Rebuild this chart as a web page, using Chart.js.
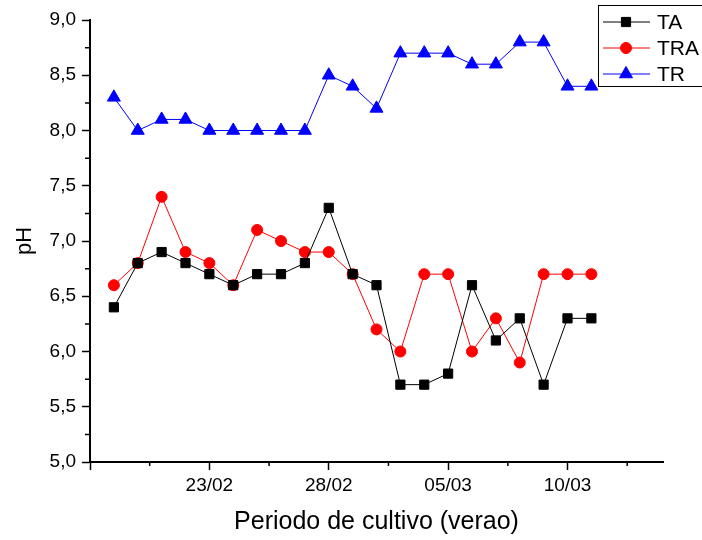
<!DOCTYPE html>
<html>
<head>
<meta charset="utf-8">
<script src="https://cdn.jsdelivr.net/npm/chart.js@4/dist/chart.umd.min.js"></script>
<style>
  body { margin: 0; background: #fff; }
  #wrap { width: 702px; height: 540px; }
</style>
</head>
<body>
<div id="wrap"><canvas id="phChart" width="702" height="540"></canvas></div>
<script>
// jours de mesure (19/02 -> 11/03)
const days = ['19/02', '20/02', '21/02', '22/02', '23/02', '24/02', '25/02', '26/02', '27/02', '28/02',
  '01/03', '02/03', '03/03', '04/03', '05/03', '06/03', '07/03', '08/03', '09/03', '10/03', '11/03'];
const xTickLabels = ['23/02', '28/02', '05/03', '10/03'];
const ta  = [6.4, 6.8, 6.9, 6.8, 6.7, 6.6, 6.7, 6.7, 6.8, 7.3, 6.7, 6.6, 5.7, 5.7, 5.8, 6.6, 6.1, 6.3, 5.7, 6.3, 6.3];
const tra = [6.6, 6.8, 7.4, 6.9, 6.8, 6.6, 7.1, 7.0, 6.9, 6.9, 6.7, 6.2, 6.0, 6.7, 6.7, 6.0, 6.3, 5.9, 6.7, 6.7, 6.7];
const tr  = [8.3, 8.0, 8.1, 8.1, 8.0, 8.0, 8.0, 8.0, 8.0, 8.5, 8.4, 8.2, 8.7, 8.7, 8.7, 8.6, 8.6, 8.8, 8.8, 8.4, 8.4];

const FONT = '"Liberation Sans", Arial, sans-serif';
Chart.defaults.font.family = FONT;
Chart.defaults.color = '#000';

const pts = arr => arr.map((v, i) => ({ x: i, y: v }));

// graduations secondaires + legende encadree
const extras = {
  id: 'extras',
  afterDraw(chart) {
    const { ctx, chartArea: a, scales: { x, y } } = chart;
    ctx.save();
    ctx.strokeStyle = '#000';
    ctx.lineWidth = 1.5;
    ctx.beginPath();
    for (let v = x.min + 2.5; v < x.max; v += 5) {
      const px = x.getPixelForValue(v);
      ctx.moveTo(px, a.bottom);
      ctx.lineTo(px, a.bottom + 4);
    }
    for (let v = y.min + 0.25; v < y.max; v += 0.5) {
      const py = y.getPixelForValue(v);
      ctx.moveTo(a.left - 5, py);
      ctx.lineTo(a.left, py);
    }
    ctx.stroke();

    ctx.lineWidth = 1;
    ctx.strokeRect(598.5, 5.5, 104, 81);
    ctx.font = '21px ' + FONT;
    ctx.textBaseline = 'middle';
    ctx.textAlign = 'left';
    chart.data.datasets.forEach((ds, i) => {
      const ly = 22 + i * 26;
      ctx.strokeStyle = ds.borderColor;
      ctx.beginPath();
      ctx.moveTo(603, ly);
      ctx.lineTo(650, ly);
      ctx.stroke();
      ctx.fillStyle = ds.pointBackgroundColor;
      ctx.strokeStyle = ds.pointBorderColor;
      Chart.helpers.drawPoint(ctx, { pointStyle: ds.pointStyle, radius: ds.pointRadius, rotation: 0, borderWidth: 1 }, 626, ly);
      ctx.fillStyle = '#000';
      ctx.fillText(ds.label, 657, ly + 1);
    });
    ctx.restore();
  }
};

const mk = (label, data, color, style, r) => ({
  label, data: pts(data),
  borderColor: color, borderWidth: 1,
  pointStyle: style, pointRadius: r, pointHoverRadius: r,
  pointBackgroundColor: color, pointBorderColor: color, pointBorderWidth: 1,
  tension: 0, clip: false
});

new Chart(document.getElementById('phChart'), {
  type: 'line',
  data: {
    datasets: [
      mk('TA', ta, '#000000', 'rect', 6.5),
      mk('TRA', tra, '#ff0000', 'circle', 5.5),
      mk('TR', tr, '#0000ff', 'triangle', 7.5)
    ]
  },
  options: {
    responsive: false,
    animation: false,
    layout: { padding: { top: 20, right: 39, left: 0, bottom: 0 } },
    plugins: { legend: { display: false }, tooltip: { enabled: false } },
    scales: {
      x: {
        type: 'linear',
        min: -1,
        max: 23,
        afterBuildTicks(scale) {
          const start = days.indexOf(xTickLabels[0]);
          const ticks = [];
          for (let v = start - 5; v <= scale.max; v += 5) ticks.push({ value: v });
          scale.ticks = ticks;
        },
        afterFit(scale) { scale.height = 78; },
        ticks: {
          autoSkip: false,
          maxRotation: 0,
          padding: 4,
          font: { size: 19 },
          callback: v => (xTickLabels.includes(days[v]) ? days[v] : '')
        },
        grid: { drawOnChartArea: false, tickLength: 8, tickColor: '#000', tickWidth: 1.5 },
        border: { color: '#000', width: 2 },
        title: { display: true, text: 'Periodo de cultivo (verao)', font: { size: 25 }, padding: { top: 0, bottom: 3 } }
      },
      y: {
        min: 5,
        max: 9,
        afterFit(scale) { scale.width = 90; },
        ticks: {
          stepSize: 0.5,
          padding: 6,
          font: { size: 19 },
          callback: v => v.toFixed(1).replace('.', ',')
        },
        grid: { drawOnChartArea: false, tickLength: 8, tickColor: '#000', tickWidth: 1.5 },
        border: { color: '#000', width: 2 },
        title: { display: true, text: 'pH', font: { size: 22 }, padding: { top: 12, bottom: 0 } }
      }
    }
  },
  plugins: [extras]
});
</script>
</body>
</html>
